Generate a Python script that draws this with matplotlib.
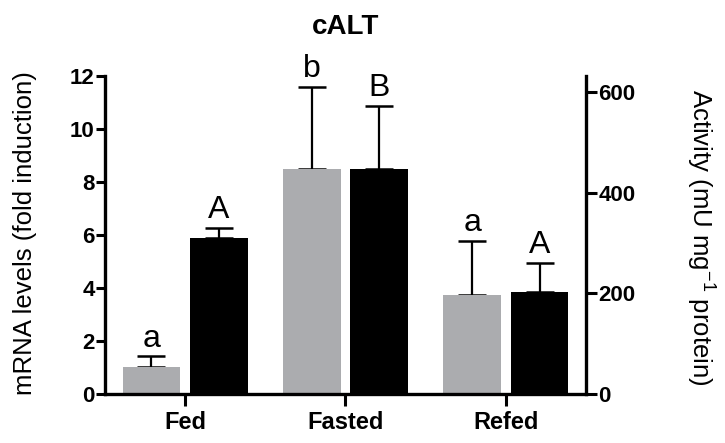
import numpy as np
import matplotlib
matplotlib.use("Agg")
import matplotlib.pyplot as plt

plt.rcParams['font.family'] = ['Liberation Sans', 'DejaVu Sans']
plt.rcParams['mathtext.fontset'] = 'custom'
plt.rcParams['mathtext.rm'] = 'Liberation Sans'
plt.rcParams['mathtext.it'] = 'Liberation Sans:italic'

groups = ["Fed", "Fasted", "Refed"]
mrna = [1.02, 8.5, 3.74]
mrna_err = [0.4, 3.1, 2.03]
mrna_letters = ["a", "b", "a"]
activity = [310, 447, 203]
activity_err = [20, 126, 57]
activity_letters = ["A", "B", "A"]

x = np.arange(len(groups))
w = 0.36
off = 0.21

fig = plt.figure(figsize=(7.25, 4.43), dpi=100)
ax = fig.add_axes([0.1448, 0.1106, 0.6635, 0.7178])
ax2 = ax.twinx()

ax.bar(x - off, mrna, w, color="#ABACAF", zorder=2)
ax.errorbar(x - off, mrna, yerr=[np.zeros(3), mrna_err], fmt='none',
            ecolor='black', elinewidth=1.6, capsize=10, capthick=1.8, zorder=1)
ax2.bar(x + off, activity, w, color="black", zorder=2)
ax2.errorbar(x + off, activity, yerr=[np.zeros(3), activity_err], fmt='none',
             ecolor='black', elinewidth=1.6, capsize=10, capthick=1.8, zorder=1)

for xi, v, e, t in zip(x - off, mrna, mrna_err, mrna_letters):
    ax.annotate(t, (xi, v + e), xytext=(0, 2), textcoords='offset points',
                ha='center', va='bottom', fontsize=23)
for xi, v, e, t in zip(x + off, activity, activity_err, activity_letters):
    ax2.annotate(t, (xi, v + e), xytext=(0, 2), textcoords='offset points',
                 ha='center', va='bottom', fontsize=23)

ax.set_xlim(-0.5, 2.5)
ax.set_ylim(0, 12)
ax2.set_ylim(0, 632)
ax.set_yticks([0, 2, 4, 6, 8, 10, 12])
ax2.set_yticks([0, 200, 400, 600])
ax.set_xticks(x)
ax.set_xticklabels(groups, fontsize=17, fontweight='bold')

for lab in ax.get_yticklabels():
    lab.set_fontweight('bold')
    lab.set_fontsize(16)
for lab in ax2.get_yticklabels():
    lab.set_fontweight('bold')
    lab.set_fontsize(16)

ax.tick_params(axis='y', length=6.5, width=2.2, pad=1)
ax.tick_params(axis='x', length=8.5, width=2.2, pad=4)
ax2.tick_params(axis='y', length=8, width=2.2, pad=1)

for s in ["top", "right"]:
    ax.spines[s].set_visible(False)
for s in ["top", "left", "bottom"]:
    ax2.spines[s].set_visible(False)
ax.spines["left"].set_linewidth(2.4)
ax.spines["bottom"].set_linewidth(2.4)
ax2.spines["right"].set_linewidth(2.4)

fig.text(0.034, 0.474, "mRNA levels (fold induction)", rotation=90,
         ha='center', va='center', fontsize=18.5)
fig.text(0.966, 0.465, "Activity (mU mg$^{-1}$ protein)", rotation=270,
         ha='center', va='center', fontsize=18.5)
fig.text(0.4772, 0.94, "cALT", ha='center', va='center',
         fontsize=20, fontweight='bold')

fig.savefig("out.png", dpi=100)
